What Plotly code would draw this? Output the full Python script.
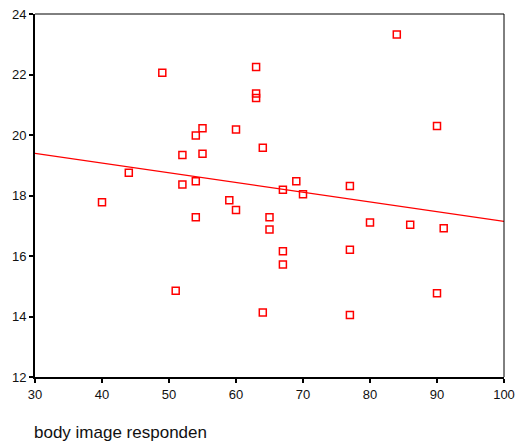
import numpy as np
import plotly.graph_objects as go

body_image = [40, 44, 49, 51, 52, 52, 54, 54, 54, 55, 55, 59, 60, 60, 63, 63, 63,
              64, 64, 65, 65, 67, 67, 67, 69, 70, 77, 77, 77, 80, 84, 86, 90, 90, 91]
y_values = [17.78, 18.75, 22.06, 14.85, 19.34, 18.36, 19.98, 18.47, 17.28, 20.22, 19.38,
            17.84, 20.18, 17.52, 22.25, 21.37, 21.22, 19.58, 14.13, 17.28, 16.88, 18.19,
            16.16, 15.72, 18.47, 18.04, 18.31, 16.21, 14.05, 17.11, 23.32, 17.03, 20.30,
            14.77, 16.92]
x_ticks = [30, 40, 50, 60, 70, 80, 90, 100]
y_ticks = [12, 14, 16, 18, 20, 22, 24]
x_title = "body image responden"

slope, intercept = np.polyfit(body_image, y_values, 1)
line_x = [30, 100]
line_y = [intercept + slope * v for v in line_x]

fig = go.Figure()
fig.add_trace(go.Scatter(x=line_x, y=line_y, mode="lines",
                         line=dict(color="#ff0000", width=1.3), hoverinfo="skip"))
fig.add_trace(go.Scatter(x=body_image, y=y_values, mode="markers",
                         marker=dict(symbol="square-open", size=7, color="#ff0000",
                                     line=dict(width=1.5, color="#ff0000"))))

font = dict(family="Liberation Sans, Arial, sans-serif", size=13, color="#111111")
fig.update_layout(
    width=516, height=443, autosize=False, showlegend=False,
    paper_bgcolor="white", plot_bgcolor="white",
    margin=dict(l=35, r=12, t=14, b=66, autoexpand=False),
    font=font,
    xaxis=dict(range=[30, 100], tickvals=x_ticks, ticks="outside", ticklen=4,
               tickwidth=1.5, tickcolor="black", showline=True, linecolor="black",
               linewidth=2, showgrid=False, zeroline=False, tickfont=font,
               automargin=False),
    yaxis=dict(range=[12, 24], tickvals=y_ticks, ticks="outside", ticklen=4,
               tickwidth=1.5, tickcolor="black", showline=True, linecolor="black",
               linewidth=2, showgrid=False, zeroline=False, tickfont=font,
               automargin=False),
    shapes=[
        dict(type="line", xref="paper", yref="paper", x0=0, x1=1, y0=1, y1=1,
             line=dict(color="black", width=1)),
        dict(type="line", xref="paper", yref="paper", x0=1, x1=1, y0=0, y1=1,
             line=dict(color="black", width=1)),
    ],
    annotations=[dict(text=x_title, xref="paper", yref="paper", x=-0.006, y=-0.152,
                      xanchor="left", yanchor="middle", showarrow=False,
                      font=dict(family="Liberation Sans, Arial, sans-serif", size=17,
                                color="#111111"))],
)
fig.write_html("out.html", config={"responsive": False})
